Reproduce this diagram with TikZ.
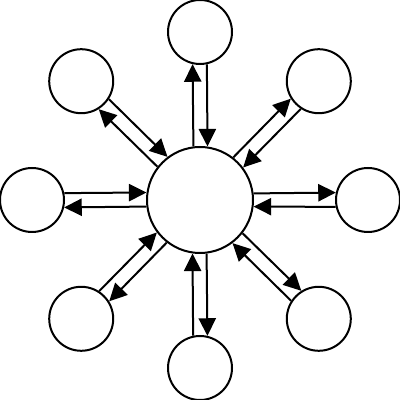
\documentclass[tikz,border=0pt]{standalone}
\usepackage{tikz}
\usetikzlibrary{arrows.meta,calc}
\tikzset{
  hub/.style  = {draw, circle, line width=0.5mm, minimum size=26.5mm, inner sep=0pt},
  leaf/.style = {draw, circle, line width=0.5mm, minimum size=16mm, inner sep=0pt},
  link/.style = {-{Triangle[length=4.4mm,width=4.3mm]}, line width=0.5mm}
}
\begin{document}
\begin{tikzpicture}[x=1mm, y=1mm]
\useasboundingbox (0,0) rectangle (100,100);

% ---------- centre ----------
\node[hub] (hub) at (50,50) {};

% ---------- eight leaves round it ----------
\foreach \i in {0,...,7} {
  \node[leaf] (l\i) at ($(hub.center)+(\i*45:42)$) {};
}

% ---------- paired links (out on the left, back on the right) ----------
\def\ha{7.8}    % offset angle on the hub
\def\la{12.8}   % offset angle on a leaf
\foreach \i in {0,...,7} {
  \pgfmathsetmacro\hout{\i*45+\ha}
  \pgfmathsetmacro\lout{\i*45+180-\la}
  \pgfmathsetmacro\lin{\i*45+180+\la}
  \pgfmathsetmacro\hin{\i*45-\ha}
  \draw[link] (hub.\hout) -- (l\i.\lout);
  \draw[link] (l\i.\lin) -- (hub.\hin);
}

\end{tikzpicture}
\end{document}
